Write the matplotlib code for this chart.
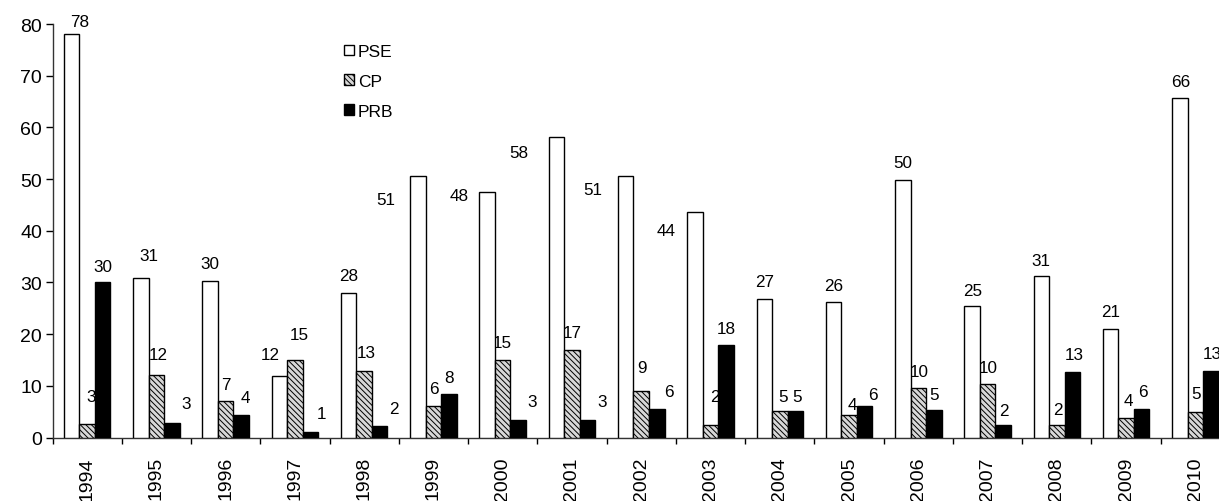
import matplotlib
matplotlib.use("Agg")
import matplotlib.pyplot as plt
import numpy as np

years = [str(y) for y in range(1994, 2011)]
series_names = ["PSE", "CP", "PRB"]
pse = [78, 30.9, 30.3, 11.9, 28.0, 50.6, 47.5, 58.2, 50.6, 43.7, 26.7, 26.2, 49.8, 25.4, 31.2, 21.0, 65.6]
cp = [2.7, 12.1, 7.1, 15.0, 12.9, 6.1, 15.0, 17.0, 9.05, 2.4, 5.2, 4.3, 9.6, 10.3, 2.4, 3.8, 5.0]
prb = [30.0, 2.8, 4.3, 1.06, 2.2, 8.4, 3.4, 3.4, 5.6, 17.8, 5.2, 6.1, 5.3, 2.4, 12.7, 5.6, 12.9]

# label offsets in pixels (dx, dy) relative to bar top centre
pse_off = [(8, 13), (8, 22), (0, 17), (-9, 21), (0, 17), (-32, -24), (-28, -4), (-38, -16),
           (-33, -14), (-29, -19), (0, 18), (0, 17), (0, 18), (1, 16), (0, 16), (0, 17), (1, 17)]
cp_off = [(4, 27), (2, 20), (0, 16), (4, 25), (2, 18), (0, 17), (0, 17), (0, 17), (1, 23),
          (4, 29), (3, 14), (3, 11), (1, 16), (1, 17), (1, 16), (2, 17), (1, 18)]
prb_off = [(0, 16), (14, 20), (4, 18), (11, 19), (14, 18), (0, 17), (14, 18), (15, 18), (12, 17),
           (0, 17), (2, 14), (8, 11), (0, 16), (1, 15), (2, 17), (1, 17), (1, 17)]

plt.rcParams['font.family'] = ['Liberation Sans', 'DejaVu Sans']
plt.rcParams['hatch.linewidth'] = 0.7
plt.rcParams['hatch.color'] = '#444444'

fig = plt.figure(figsize=(12.19, 5.02), dpi=100)
ax = fig.add_axes([52.5 / 1219, (502 - 438.5) / 502, (1230 - 52.5) / 1219, 413.5 / 502])

x = np.arange(len(years))
w = 0.224
styles = [
    dict(facecolor='white', edgecolor='black', hatch=None),
    dict(facecolor='#d8d8d8', edgecolor='black', hatch='\\\\\\\\\\\\'),
    dict(facecolor='black', edgecolor='black', hatch=None),
]
data = [pse, cp, prb]
offs = [pse_off, cp_off, prb_off]
handles = []
for k, (vals, st, off) in enumerate(zip(data, styles, offs)):
    pos = x + (k - 1) * w
    bars = ax.bar(pos, vals, width=w, linewidth=1.0, label=series_names[k], zorder=3, **st)
    handles.append(bars)
    for xi, v, (dx, dy) in zip(pos, vals, off):
        ax.annotate(f"{v:.0f}", (xi, v), xytext=(dx, dy), textcoords='offset pixels',
                    ha='center', va='center', fontsize=12.3, zorder=2)

ax.set_xlim(-0.5, len(years) - 0.5)
ax.set_ylim(0, 80)
ax.set_yticks(range(0, 81, 10))
ax.tick_params(axis='y', labelsize=14, length=5, width=1, direction='out', pad=2.5)
ax.set_xticks(x)
ax.set_xticklabels(years, rotation=90, fontsize=14)
ax.tick_params(axis='x', which='major', length=0, pad=13.5)
ax.set_xticks(np.arange(-0.5, len(years)), minor=True)
ax.tick_params(axis='x', which='minor', length=4, width=1, direction='out')
for s in ['top', 'right']:
    ax.spines[s].set_visible(False)
for s in ['left', 'bottom']:
    ax.spines[s].set_color('#333333')
    ax.spines[s].set_linewidth(1.0)

leg = fig.legend(handles=handles, labels=series_names, loc='upper left',
                 bbox_to_anchor=(344 / 1219, 1 - 45 / 502), frameon=False, fontsize=12.5,
                 handlelength=0.55, handleheight=0.55, handletextpad=0.25, labelspacing=0.85,
                 borderaxespad=0, borderpad=0)

fig.savefig("out.png", dpi=100)
